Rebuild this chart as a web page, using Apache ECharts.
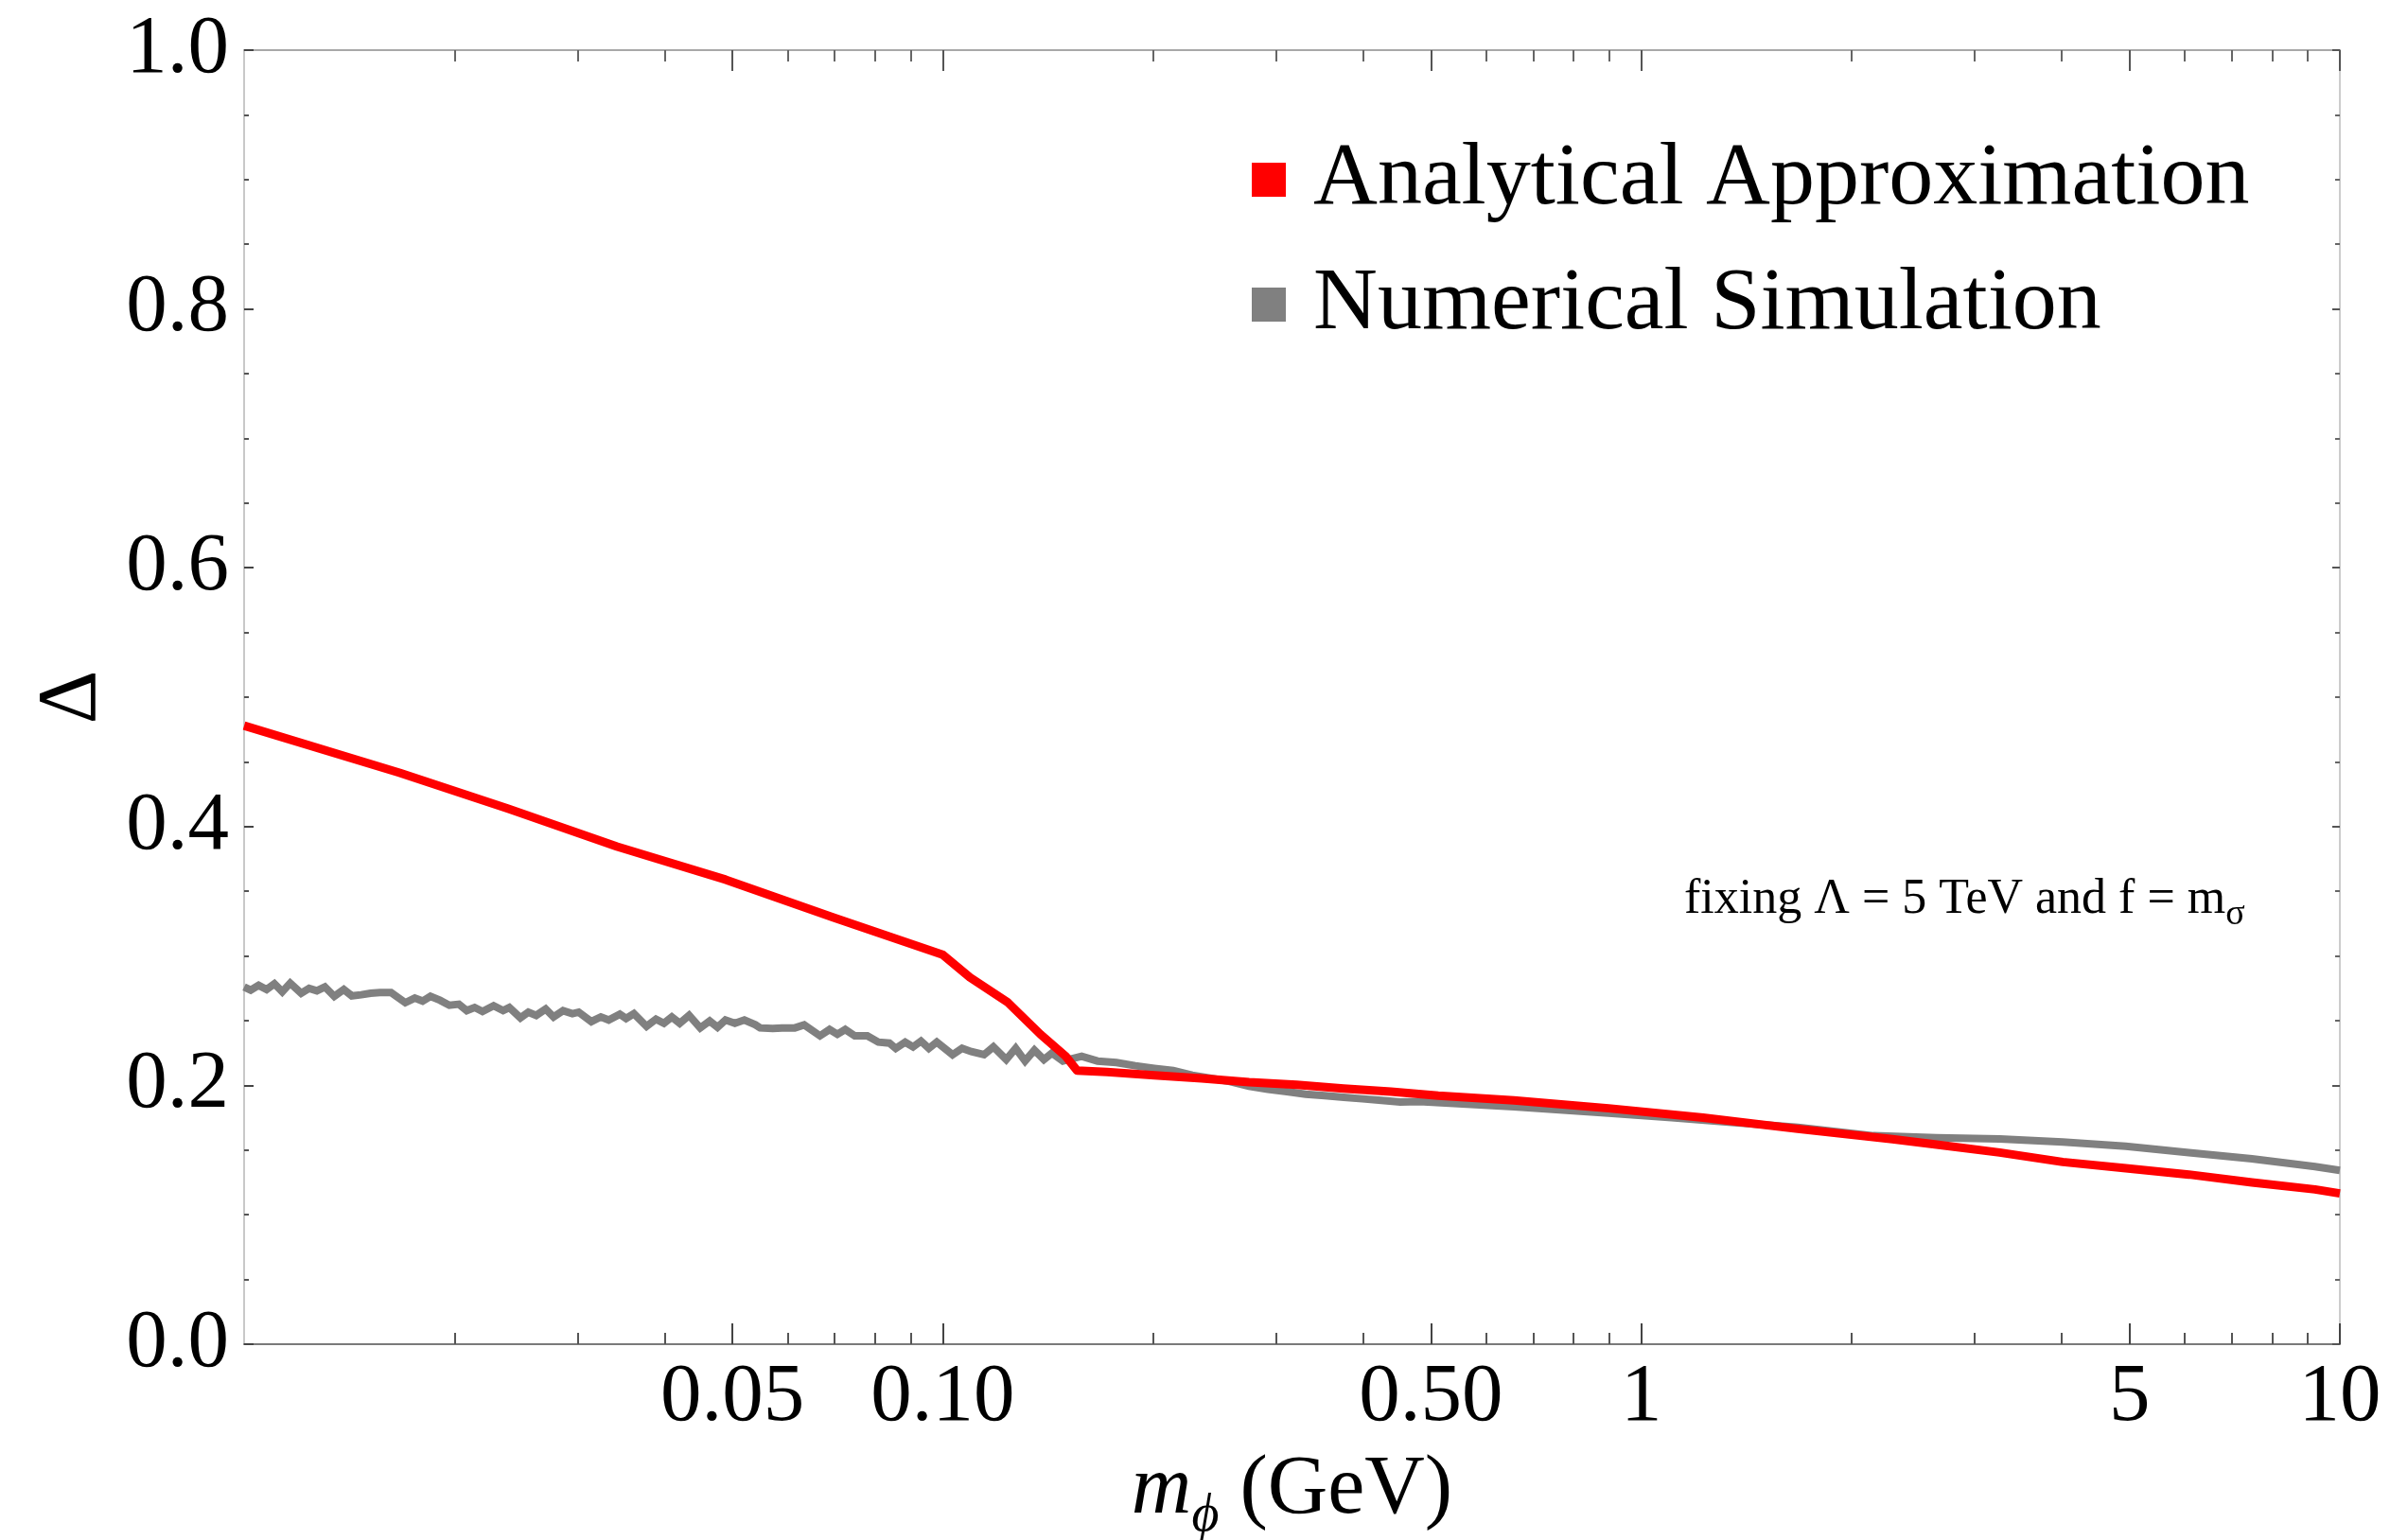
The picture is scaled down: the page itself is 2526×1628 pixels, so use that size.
<!DOCTYPE html>
<html><head><meta charset="utf-8">
<script src="https://cdn.jsdelivr.net/npm/echarts@6/dist/echarts.min.js"></script>
<style>html,body{margin:0;padding:0;background:#fff}#c{width:2526px;height:1628px}</style>
</head><body><div id="c"></div>
<script>
const seriesNames = ['Analytical Approximation', 'Numerical Simulation'];

const analyticalX = [0.01, 0.0167, 0.0239, 0.0342, 0.0489, 0.0698, 0.1, 0.1094, 0.124, 0.138, 0.150, 0.1557,
  0.1719, 0.2009, 0.2348, 0.2745, 0.3209, 0.3750, 0.4382, 0.5121, 0.6572, 0.8977, 1.226, 1.675, 2.288,
  2.647, 3.258, 4.012, 4.939, 6.080, 7.484, 9.213, 10];
const analyticalY = [0.478, 0.4415, 0.4137, 0.3845, 0.359, 0.3297, 0.301, 0.2834, 0.264, 0.2395, 0.2225, 0.2115,
  0.2103, 0.2078, 0.2054, 0.2025, 0.2005, 0.1976, 0.1952, 0.1920, 0.1884, 0.1823, 0.1750, 0.1664, 0.1585,
  0.1542, 0.1481, 0.1408, 0.1360, 0.1311, 0.1250, 0.1196, 0.1165];

const numericalX = [0.01, 0.01022, 0.01049, 0.01077, 0.01105, 0.01134, 0.01164, 0.01207, 0.01239, 0.01271,
  0.01305, 0.01346, 0.01389, 0.01426, 0.01471, 0.01517, 0.01565, 0.01623, 0.01701, 0.01755,
  0.01801, 0.01848, 0.01907, 0.01967, 0.02030, 0.02083, 0.02138, 0.02194, 0.02276, 0.02348,
  0.02397, 0.02486, 0.02552, 0.02619, 0.02702, 0.02773, 0.02861, 0.02951, 0.03013, 0.03141,
  0.03241, 0.03326, 0.03450,
  0.03522, 0.03614, 0.03768, 0.03887, 0.03990, 0.04095, 0.04203, 0.04335, 0.04497, 0.04639,
  0.04761, 0.04887, 0.05041, 0.05201, 0.05394, 0.05478, 0.05710, 0.05891, 0.06142, 0.06335,
  0.06673, 0.06887, 0.07067, 0.07253, 0.07484, 0.07800, 0.08090, 0.08389, 0.08567, 0.08837,
  0.09070, 0.09309, 0.09554, 0.09806, 0.1033, 0.1066, 0.1099, 0.1146,
  0.1182, 0.1233, 0.1272, 0.1312, 0.1353, 0.1396, 0.1433, 0.1486, 0.1581, 0.1666,
  0.1773, 0.1887, 0.2009, 0.2138, 0.2276, 0.2423, 0.2578, 0.2745, 0.2920, 0.3109,
  0.3309, 0.3523, 0.3750, 0.3990, 0.4247, 0.4519, 0.4812,
  0.6572, 0.8977, 1.105, 1.360, 1.675, 2.149, 2.647, 3.258, 4.012, 4.939, 6.080, 7.484, 9.213, 10];
const numericalY = [0.2761, 0.2736, 0.2773, 0.2741, 0.2785, 0.2724, 0.2790, 0.2712, 0.2749, 0.2731,
  0.2761, 0.2688, 0.2741, 0.2692, 0.2700, 0.2712, 0.2717, 0.2717, 0.2639, 0.2675,
  0.2651, 0.2688, 0.2658, 0.2619, 0.2627, 0.2578, 0.2602, 0.2571, 0.2615, 0.2578,
  0.2602, 0.2522, 0.2566, 0.2541, 0.2590, 0.2529, 0.2578, 0.2554, 0.2566, 0.2493,
  0.2529, 0.2505, 0.2550,
  0.2517, 0.2554, 0.2456, 0.2512, 0.2480, 0.2529, 0.2480, 0.2541, 0.2444, 0.2498,
  0.2449, 0.2505, 0.2480, 0.2505, 0.2468, 0.2444, 0.2439, 0.2444, 0.2444, 0.2468,
  0.2383, 0.2432, 0.2395, 0.2432, 0.2383, 0.2383, 0.2334, 0.2327, 0.2286, 0.2334,
  0.2298, 0.2342, 0.2286, 0.2334, 0.2237, 0.2286, 0.2261, 0.2237,
  0.2298, 0.2200, 0.2286, 0.2188, 0.2273, 0.2200, 0.2249, 0.2188, 0.2225, 0.2188,
  0.2176, 0.2152, 0.2132, 0.2115, 0.2078, 0.2054, 0.2030, 0.1993, 0.1969, 0.1952,
  0.1932, 0.1920, 0.1908, 0.1896, 0.1884, 0.1871, 0.1875,
  0.1835, 0.1786, 0.1750, 0.1713, 0.1676, 0.1611, 0.1596, 0.1586, 0.1562, 0.1530, 0.1481, 0.1433, 0.1372, 0.1343];

const xMajorTicks = [0.05, 0.1, 0.5, 1, 5, 10];
const xMajorLabels = ['0.05', '0.10', '0.50', '1', '5', '10'];
const xMinorTicks = [0.02, 0.03, 0.04, 0.06, 0.07, 0.08, 0.09, 0.2, 0.3, 0.4, 0.6, 0.7, 0.8, 0.9, 2, 3, 4, 6, 7, 8, 9];
const yTickLabels = ['0.0', '0.2', '0.4', '0.6', '0.8', '1.0'];

const FONT = "'Liberation Serif', 'Times New Roman', 'DejaVu Serif', serif";

function zip(xs, ys) { return xs.map((x, i) => [x, ys[i]]); }

const chart = echarts.init(document.getElementById('c'), null, { renderer: 'canvas' });

const baseX = { type: 'log', logBase: 10, min: 0.01, max: 10, splitLine: { show: false }, minorTick: { show: false } };

chart.setOption({
  animation: false,
  backgroundColor: '#fff',
  textStyle: { fontFamily: FONT },
  grid: { left: 258, right: 53, top: 53, bottom: 207, containLabel: false, outerBoundsMode: 'none' },
  legend: {
    orient: 'vertical', left: 1318, top: 135,
    data: seriesNames,
    icon: 'rect', itemWidth: 36, itemHeight: 36, itemGap: 32,
    selectedMode: false,
    itemStyle: { borderWidth: 0 },
    textStyle: { fontFamily: FONT, fontSize: 94, lineHeight: 100, color: '#000', padding: [0, 0, 0, 24] }
  },
  xAxis: [
    Object.assign({}, baseX, {
      position: 'bottom',
      axisLine: { show: true, lineStyle: { color: '#7a7a7a', width: 2 } },
      axisTick: { show: true, inside: true, length: 22, customValues: xMajorTicks, lineStyle: { color: '#444', width: 2 } },
      axisLabel: {
        show: true, customValues: xMajorTicks, margin: 14, color: '#000', fontFamily: FONT, fontSize: 87,
        formatter: function (v) {
          for (let i = 0; i < xMajorTicks.length; i++) if (Math.abs(v - xMajorTicks[i]) / xMajorTicks[i] < 1e-6) return xMajorLabels[i];
          return '';
        }
      },
      name: '{m|m}{s|ϕ}{t| (GeV)}',
      nameLocation: 'middle', nameGap: 100,
      nameTextStyle: {
        color: '#000', fontFamily: FONT,
        rich: {
          m: { fontSize: 88, fontStyle: 'italic', fontFamily: FONT, lineHeight: 110, color: '#000' },
          s: { fontSize: 56, fontStyle: 'italic', fontFamily: FONT, lineHeight: 56, verticalAlign: 'bottom', color: '#000' },
          t: { fontSize: 88, fontFamily: FONT, lineHeight: 110, color: '#000' }
        }
      }
    }),
    Object.assign({}, baseX, {
      position: 'bottom',
      axisLine: { show: false },
      axisTick: { show: true, inside: true, length: 12, customValues: xMinorTicks, lineStyle: { color: '#555', width: 2 } },
      axisLabel: { show: false }
    }),
    Object.assign({}, baseX, {
      position: 'top',
      axisLine: { show: true, lineStyle: { color: '#a8a8a8', width: 2 } },
      axisTick: { show: true, inside: true, length: 22, customValues: xMajorTicks, lineStyle: { color: '#555', width: 2 } },
      axisLabel: { show: false }
    }),
    Object.assign({}, baseX, {
      position: 'top',
      axisLine: { show: false },
      axisTick: { show: true, inside: true, length: 12, customValues: xMinorTicks, lineStyle: { color: '#666', width: 2 } },
      axisLabel: { show: false }
    })
  ],
  yAxis: [
    {
      type: 'value', min: 0, max: 1, interval: 0.2, position: 'left',
      splitLine: { show: false },
      axisLine: { show: true, lineStyle: { color: '#c8c8c8', width: 2 } },
      axisTick: { show: true, inside: true, length: 10, lineStyle: { color: '#444', width: 2 } },
      minorTick: { show: true, splitNumber: 4, length: 5, lineStyle: { color: '#555', width: 2 } },
      axisLabel: {
        color: '#000', fontFamily: FONT, fontSize: 87, margin: 16,
        formatter: function (v) { return yTickLabels[Math.round(v / 0.2)]; }
      },
      name: 'Δ', nameLocation: 'middle', nameRotate: 90, nameGap: 137,
      nameTextStyle: { color: '#000', fontFamily: FONT, fontSize: 88 }
    },
    {
      type: 'value', min: 0, max: 1, interval: 0.2, position: 'right',
      splitLine: { show: false },
      axisLine: { show: true, lineStyle: { color: '#cccccc', width: 2 } },
      axisTick: { show: true, inside: true, length: 8, lineStyle: { color: '#555', width: 2 } },
      minorTick: { show: true, splitNumber: 4, length: 5, lineStyle: { color: '#666', width: 2 } },
      axisLabel: { show: false }
    }
  ],
  graphic: [{
    type: 'text', left: 1780, top: 925, z: 100,
    style: {
      text: '{a|fixing Λ = 5 TeV and f = m}{b|σ}',
      rich: {
        a: { fontSize: 52, fontFamily: FONT, lineHeight: 70, fill: '#000' },
        b: { fontSize: 38, fontFamily: FONT, lineHeight: 38, verticalAlign: 'bottom', fill: '#000' }
      }
    }
  }],
  series: [
    {
      name: seriesNames[1], type: 'line', xAxisIndex: 0, yAxisIndex: 0,
      data: zip(numericalX, numericalY), showSymbol: false, symbol: 'none', z: 2,
      color: '#808080',
      lineStyle: { color: '#808080', width: 8, join: 'miter', cap: 'butt' },
      itemStyle: { color: '#808080' }
    },
    {
      name: seriesNames[0], type: 'line', xAxisIndex: 0, yAxisIndex: 0,
      data: zip(analyticalX, analyticalY), showSymbol: false, symbol: 'none', z: 3,
      color: '#ff0000',
      lineStyle: { color: '#ff0000', width: 9, join: 'round', cap: 'butt' },
      itemStyle: { color: '#ff0000' }
    }
  ]
});
</script>
</body></html>
